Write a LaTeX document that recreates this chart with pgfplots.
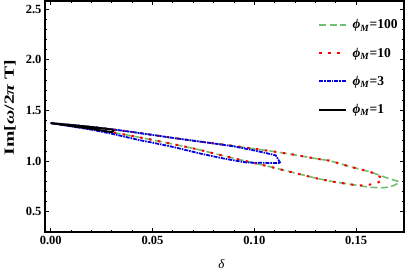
\documentclass[border=0pt]{standalone}
\usepackage{fontspec}
\setmainfont{Liberation Serif}
\usepackage{pgfplots}
\pgfplotsset{compat=1.18}
\definecolor{cgreen}{RGB}{112,190,112}
\definecolor{cred}{RGB}{255,0,0}
\definecolor{cblue}{RGB}{0,0,225}
\begin{document}
\begin{tikzpicture}[x=1pt,y=1pt]
\path[use as bounding box] (0,0) rectangle (407,275);
\begin{axis}[
  at={(45pt,43pt)}, anchor=south west,
  scale only axis, width=359pt, height=231pt,
  xmin=-0.0028, xmax=0.1735, ymin=0.3, ymax=2.58,
  xtick={0,0.05,0.1,0.15}, ytick={0.5,1.0,1.5,2.0,2.5},
  xticklabels={0.00,0.05,0.10,0.15},
  yticklabels={0.5,1.0,1.5,2.0,2.5},
  minor x tick num=4, minor y tick num=4,
  tick align=inside, major tick length=4pt, minor tick length=2pt,
  tick style={black, line width=0.8pt},
  axis line style={line width=1.6pt},
  tick label style={font=\fontsize{12.5}{12.5}\selectfont\bfseries},
  xticklabel style={yshift=-1pt},
  xlabel={\textit{δ}},
  ylabel={\scalebox{1.4}[1]{\textbf{Im[\textit{ω}/2\textit{π} T]}}},
  xlabel style={at={(axis description cs:0.4916,-0.1385)}, anchor=center, font=\fontsize{13}{13}\selectfont},
  ylabel style={at={(axis description cs:-0.0975,0.54)}, anchor=center, font=\fontsize{14}{14}\selectfont},
  legend style={draw=none, fill=none, at={(axis description cs:0.995,0.935)}, anchor=north east,
    font=\fontsize{13.5}{13.5}\selectfont\bfseries, row sep=14.5pt, nodes={inner sep=1.5pt}},
  legend cell align=left,
  legend image code/.code={\draw[#1] (0pt,0pt) -- (27pt,0pt); \path (31pt,0pt);},
  every axis plot/.append style={line width=1.6pt, line join=round},
]
\addplot[cgreen, dash pattern=on 7pt off 3.5pt] coordinates {
(0,1.375)(0.01,1.357)(0.02,1.337)(0.03,1.314)(0.04,1.287)(0.05,1.258)(0.06,1.229)(0.07,1.201)(0.08,1.175)(0.09,1.149)(0.10,1.121)(0.11,1.093)(0.12,1.061)(0.13,1.025)(0.137,1.004)(0.147,0.945)(0.157,0.893)(0.1634,0.846)(0.168,0.815)(0.1712,0.797)
(0.1705,0.78)(0.169,0.764)(0.1665,0.745)(0.1634,0.737)(0.1568,0.741)(0.147,0.771)(0.1388,0.796)(0.1305,0.830)(0.1224,0.870)(0.1142,0.911)(0.1061,0.952)(0.0979,0.990)(0.0897,1.028)(0.0815,1.069)(0.0733,1.110)(0.065,1.147)(0.05,1.209)(0.04,1.248)(0.03,1.285)(0.02,1.315)(0.01,1.345)(0,1.375)
};
\addlegendentry{\textit{ϕ}\textsubscript{\textit{M}}=100}
\addplot[cred, line width=2pt, dash pattern=on 2.5pt off 6.5pt] coordinates {
(0,1.375)(0.01,1.357)(0.02,1.337)(0.03,1.314)(0.04,1.287)(0.05,1.258)(0.06,1.229)(0.07,1.201)(0.08,1.175)(0.09,1.149)(0.10,1.121)(0.11,1.093)(0.12,1.061)(0.13,1.025)(0.137,1.004)(0.147,0.945)(0.157,0.893)(0.1626,0.836)
(0.1628,0.81)(0.160,0.781)(0.1552,0.762)(0.1503,0.760)(0.147,0.771)(0.1388,0.796)(0.1305,0.830)(0.1224,0.870)(0.1142,0.911)(0.1061,0.952)(0.0979,0.990)(0.0897,1.028)(0.0815,1.069)(0.0733,1.110)(0.065,1.147)(0.05,1.209)(0.04,1.248)(0.03,1.285)(0.02,1.315)(0.01,1.345)(0,1.375)
};
\addlegendentry{\textit{ϕ}\textsubscript{\textit{M}}=10}
\addplot[cblue, line width=1.8pt, dash pattern=on 4pt off 1pt on 1.5pt off 1pt, legend image post style={line width=2pt, yshift=0.5pt}] coordinates {
(0,1.375)(0.01,1.357)(0.02,1.337)(0.03,1.314)(0.04,1.287)(0.05,1.258)(0.06,1.229)(0.07,1.201)(0.08,1.174)(0.09,1.145)(0.10,1.105)(0.1055,1.080)(0.1105,1.057)(0.1128,0.980)
(0.100,0.984)(0.0963,0.986)(0.093,0.996)(0.085,1.025)(0.0733,1.075)(0.06,1.140)(0.05,1.182)(0.044,1.205)(0.03,1.270)(0.02,1.310)(0.01,1.343)(0,1.375)
};
\addlegendentry{\textit{ϕ}\textsubscript{\textit{M}}=3}
\addplot[black, line width=1.8pt] coordinates {
(0,1.375)(0.01,1.356)(0.02,1.336)(0.03,1.312)(0.031,1.300)(0.03,1.285)(0.02,1.318)(0.01,1.346)(0,1.375)
};
\addlegendentry{\textit{ϕ}\textsubscript{\textit{M}}=1}
\end{axis}
\end{tikzpicture}
\end{document}
